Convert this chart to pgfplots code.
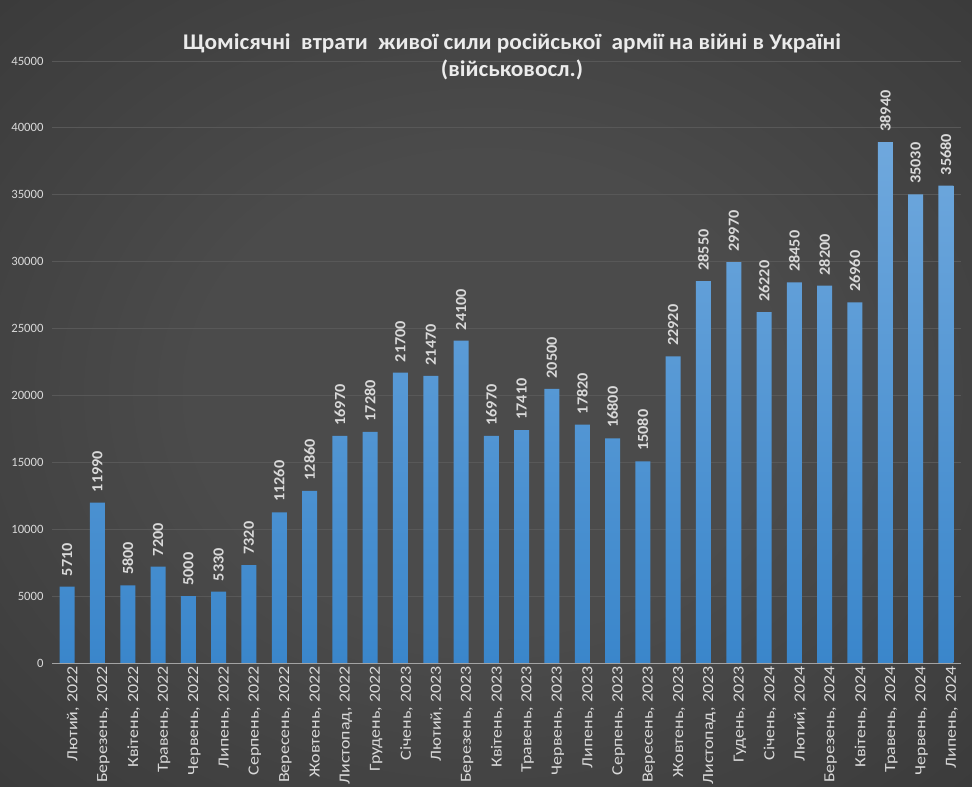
\documentclass[border=0pt]{standalone}
\usepackage{fontspec}
\setmainfont{Carlito}
\newfontfamily\valfont[FakeStretch=1.05]{Carlito}
\newfontfamily\xlabfont[FakeStretch=1.16]{Carlito}
\newfontfamily\titlefont[FakeStretch=1.04]{Carlito}
\usepackage{pgfplots}
\pgfplotsset{compat=1.18}
\definecolor{bgin}{HTML}{4B4B4B}
\definecolor{bgout}{HTML}{1E1E1E}
\definecolor{bartop}{HTML}{6FA8DD}
\definecolor{barbot}{HTML}{3A86CB}
\definecolor{txt}{HTML}{D9D9D9}
\definecolor{gridc}{HTML}{585858}
\pgfdeclareradialshading{bgshade}{\pgfpoint{0bp}{0bp}}{color(0bp)=(bgin); color(15bp)=(bgin); color(72bp)=(bgout)}
\begin{document}
\begin{tikzpicture}
\useasboundingbox (0bp,0bp) rectangle (972bp,787bp);
\shade[shading=bgshade] (0bp,0bp) rectangle (972bp,787bp);
\begin{axis}[
  at={(52bp,124bp)}, anchor=south west,
  scale only axis, width=909bp, height=602bp,
  xmin=-0.5, xmax=29.5, ymin=0, ymax=45000,
  ybar, bar width=15bp,
  axis lines*=left,
  separate axis lines,
  x axis line style={-, draw=txt!75!black, line width=1bp},
  y axis line style={draw=none},
  ymajorgrids, major grid style={draw=gridc, line width=0.8bp},
  ytick={0,5000,...,45000},
  scaled y ticks=false,
  major tick length=0pt,
  /pgf/number format/1000 sep={},
  /pgf/number format/assume math mode=true,
  yticklabel style={font=\fontsize{12.7}{15}\selectfont, color=txt, xshift=-5bp},
  xtick={0,...,29},
  xticklabels={{Лютий, 2022},{Березень, 2022},{Квітень, 2022},{Травень, 2022},{Червень, 2022},{Липень, 2022},{Серпень, 2022},{Вересень, 2022},{Жовтень, 2022},{Листопад, 2022},{Грудень, 2022},{Січень, 2023},{Лютий, 2023},{Березень, 2023},{Квітень, 2023},{Травень, 2023},{Червень, 2023},{Липень, 2023},{Серпень, 2023},{Вересень, 2023},{Жовтень, 2023},{Листопад, 2023},{Гудень, 2023},{Січень, 2024},{Лютий, 2024},{Березень, 2024},{Квітень, 2024},{Травень, 2024},{Червень, 2024},{Липень, 2024}},
  xticklabel style={rotate=90, anchor=east, font=\xlabfont\fontsize{15.5}{18}\selectfont, color=txt, yshift=-6bp},
  nodes near coords,
  every node near coord/.append style={rotate=90, anchor=west, font=\valfont\bfseries\fontsize{15.5}{17}\selectfont, color=txt, xshift=7bp},
]
\addplot[draw=none, top color=bartop, bottom color=barbot] coordinates {
(0,5710) (1,11990) (2,5800) (3,7200) (4,5000) (5,5330) (6,7320) (7,11260) (8,12860) (9,16970)
(10,17280) (11,21700) (12,21470) (13,24100) (14,16970) (15,17410) (16,20500) (17,17820) (18,16800) (19,15080)
(20,22920) (21,28550) (22,29970) (23,26220) (24,28450) (25,28200) (26,26960) (27,38940) (28,35030) (29,35680)
};
\end{axis}
\node[font=\titlefont\bfseries\fontsize{22.5}{27}\selectfont, color=white!92!black, align=center] at (512bp,730bp)
  {Щомісячні\ \ втрати\ \ живої сили російської\ \ армії на війні в Україні\\(військовосл.)};
\end{tikzpicture}
\end{document}
